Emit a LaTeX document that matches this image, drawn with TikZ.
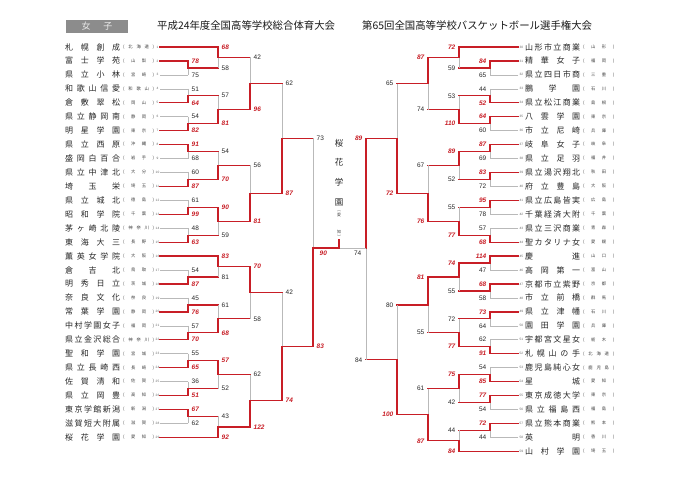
\documentclass[tikz,border=0pt]{standalone}
\usepackage{fontspec}
\setmainfont{Liberation Sans}
\newfontfamily\jp{Noto Sans CJK JP}
\usepackage{tikz}
\usetikzlibrary{calc}
\definecolor{winred}{RGB}{200,30,38}
\definecolor{losegray}{RGB}{185,185,185}
\definecolor{boxgray}{RGB}{140,140,140}
\tikzset{
  hW/.style={draw=winred, line width=1.3pt, line cap=rect},
  vW/.style={hW},
  hP/.style={hW},
  hL/.style={draw=losegray, line width=0.5pt},
  vL/.style={hL},
  vP/.style={hL},
  sW/.style={text=winred, inner sep=0.5pt, font=\fontsize{6.5}{7}\selectfont\bfseries\itshape},
  sL/.style={text=black!85, inner sep=0.5pt, font=\fontsize{6.5}{7}\selectfont},
  sP/.style={sL},
  atl/.style={anchor=west, xshift=3pt},
  atr/.style={anchor=east, xshift=-3pt},
  team/.style={inner sep=0pt, anchor=west, text=black!85, font=\jp\fontsize{8}{9}\selectfont},
  pref/.style={inner sep=0pt, anchor=west, text=black!75, font=\jp\fontsize{4.3}{5}\selectfont},
  seed/.style={inner sep=0pt, text=black!60, font=\fontsize{3.2}{4}\selectfont},
  ttl/.style={inner sep=0pt, anchor=west, text=black!90, font=\jp\fontsize{10.4}{11}\selectfont},
  sexbox/.style={fill=boxgray, text=white!92!black, minimum width=62pt, minimum height=13pt, inner sep=0pt, font=\jp\fontsize{9}{10}\selectfont},
  champ/.style={inner sep=0pt, align=center, text=black!85, font=\jp\fontsize{8.5}{19.7}\selectfont},
  champpf/.style={inner sep=0.3pt, align=center, text=black!75, font=\jp\fontsize{4}{5}\selectfont}
}
% one bout: out, upper, lower, column, kinds (W/L/P), scores, side (l/r)
\newcommand{\bout}[9]{%
  \path let \p1=(#2), \p2=(#3) in coordinate (#1) at (#4pt,{(\y1+\y2)/2});
  \draw[h#5] (#2) -- (#2 -| #1);
  \draw[h#6] (#3) -- (#3 -| #1);
  \draw[v#5] (#2 -| #1) -- (#1);
  \draw[v#6] (#3 -| #1) -- (#1);
  \node[s#5, at#9] (#1u) at (#2 -| #1) {#7};
  \node[s#6, at#9] (#1d) at (#3 -| #1) {#8};
}
\newcommand{\spread}[2]{\makebox[#1][s]{\spaceskip=0pt plus 1fil\relax\ignorespaces#2\unskip}}

\begin{document}
\begin{tikzpicture}[x=1pt, y=-1pt]
\fill[white] (0,0) rectangle (680,480);
\useasboundingbox (0,0) rectangle (680,480);

\node[sexbox] (sex) at (97,26.5) {女\hspace{13pt}子};
\node[ttl] (ttl1) at (157,26) {平成24年度全国高等学校総合体育大会};
\node[ttl] (ttl2) at (362,26) {第65回全国高等学校バスケットボール選手権大会};

% left half
\foreach \nm/\pf [count=\i] in {札 幌 創 成/北 海 道,
  富 士 学 苑/山 梨, 県 立 小 林/宮 崎, 和 歌 山 信 愛/和 歌 山,
  倉 敷 翠 松/岡 山, 県 立 静 岡 南/静 岡, 明 星 学 園/東 京,
  県 立 西 原/沖 縄, 盛 岡 白 百 合/岩 手, 県 立 中 津 北/大 分,
  埼 玉 栄/埼 玉, 県 立 城 北/徳 島, 昭 和 学 院/千 葉,
  茅 ヶ 崎 北 陵/神 奈 川, 東 海 大 三/長 野, 薫 英 女 学 院/大 阪,
  倉 吉 北/鳥 取, 明 秀 日 立/茨 城, 奈 良 文 化/奈 良,
  常 葉 学 園/静 岡, 中 村 学 園 女 子/福 岡, 県 立 金 沢 総 合/神 奈 川,
  聖 和 学 園/宮 城, 県 立 長 崎 西/長 崎, 佐 賀 清 和/佐 賀,
  県 立 岡 豊/高 知, 東 京 学 館 新 潟/新 潟, 滋 賀 短 大 附 属/滋 賀,
  桜 花 学 園/愛 知} {
  \pgfmathsetmacro\yy{47+(\i-1)*13.94}
  \node[team] (L\i) at (65,\yy) {\spread{55pt}{\nm}};
  \node[pref] (LP\i) at (123,\yy) {\makebox[31pt][s]{\spaceskip=0pt plus 1fil\relax( \pf{} )}};
  \node[seed] (LN\i) at (157.5,\yy) {\i};
  \coordinate (tL\i) at (160,\yy);
}

% right half
\foreach \nm/\pf [count=\i, evaluate=\i as \k using int(\i+29)] in {山 形 市 立 商 業/山 形,
  精 華 女 子/福 岡, 県 立 四 日 市 商/三 重, 鵬 学 園/石 川,
  県 立 松 江 商 業/島 根, 八 雲 学 園/東 京, 市 立 尼 崎/兵 庫,
  岐 阜 女 子/岐 阜, 県 立 足 羽/福 井, 県 立 湯 沢 翔 北/秋 田,
  府 立 豊 島/大 阪, 県 立 広 島 皆 実/広 島, 千 葉 経 済 大 附/千 葉,
  県 立 三 沢 商 業/青 森, 聖 カ タ リ ナ 女/愛 媛, 慶 進/山 口,
  高 岡 第 一/富 山, 京 都 市 立 紫 野/京 都, 市 立 前 橋/群 馬,
  県 立 津 幡/石 川, 園 田 学 園/兵 庫, 宇 都 宮 文 星 女/栃 木,
  札 幌 山 の 手/北 海 道, 鹿 児 島 純 心 女/鹿 児 島, 星 城/愛 知,
  東 京 成 徳 大 学/東 京, 県 立 福 島 西/福 島, 県 立 熊 本 商 業/熊 本,
  英 明/香 川, 山 村 学 園/埼 玉} {
  \pgfmathsetmacro\yy{47+(\i-1)*13.94}
  \node[team] (R\i) at (525,\yy) {\spread{55pt}{\nm}};
  \node[pref] (RP\i) at (583,\yy) {\makebox[31pt][s]{\spaceskip=0pt plus 1fil\relax( \pf{} )}};
  \node[seed, anchor=west] (RN\i) at (519.3,\yy) {\k};
  \coordinate (tR\i) at (518,\yy);
}

% left bracket
\bout{la1}{tL2}{tL3}{188}{W}{L}{78}{75}{l}
\bout{lb1}{tL1}{la1}{218}{W}{P}{68}{58}{l}
\bout{la2}{tL4}{tL5}{188}{L}{W}{51}{64}{l}
\bout{la3}{tL6}{tL7}{188}{L}{W}{54}{82}{l}
\bout{lb2}{la2}{la3}{218}{P}{W}{57}{81}{l}
\bout{lc1}{lb1}{lb2}{250}{P}{W}{42}{96}{l}
\bout{la4}{tL8}{tL9}{188}{W}{L}{91}{68}{l}
\bout{la5}{tL10}{tL11}{188}{L}{W}{60}{87}{l}
\bout{lb3}{la4}{la5}{218}{P}{W}{54}{70}{l}
\bout{la6}{tL12}{tL13}{188}{L}{W}{61}{99}{l}
\bout{la7}{tL14}{tL15}{188}{L}{W}{48}{63}{l}
\bout{lb4}{la6}{la7}{218}{W}{P}{90}{59}{l}
\bout{lc2}{lb3}{lb4}{250}{P}{W}{56}{81}{l}
\bout{ld1}{lc1}{lc2}{282}{P}{W}{62}{87}{l}
\bout{la8}{tL17}{tL18}{188}{L}{W}{54}{87}{l}
\bout{lb5}{tL16}{la8}{218}{W}{P}{83}{81}{l}
\bout{la9}{tL19}{tL20}{188}{L}{W}{45}{76}{l}
\bout{la10}{tL21}{tL22}{188}{L}{W}{57}{70}{l}
\bout{lb6}{la9}{la10}{218}{P}{W}{61}{68}{l}
\bout{lc3}{lb5}{lb6}{250}{W}{P}{70}{58}{l}
\bout{la11}{tL23}{tL24}{188}{L}{W}{55}{65}{l}
\bout{la12}{tL25}{tL26}{188}{L}{W}{36}{51}{l}
\bout{lb7}{la11}{la12}{218}{W}{P}{57}{52}{l}
\bout{la13}{tL27}{tL28}{188}{W}{L}{67}{62}{l}
\bout{lb8}{la13}{tL29}{218}{P}{W}{43}{92}{l}
\bout{lc4}{lb7}{lb8}{250}{P}{W}{62}{122}{l}
\bout{ld2}{lc3}{lc4}{282}{P}{W}{42}{74}{l}

% right bracket
\bout{ra1}{tR2}{tR3}{490}{W}{L}{84}{65}{r}
\bout{rb1}{tR1}{ra1}{459}{W}{P}{72}{59}{r}
\bout{ra2}{tR4}{tR5}{490}{L}{W}{44}{52}{r}
\bout{ra3}{tR6}{tR7}{490}{W}{L}{64}{60}{r}
\bout{rb2}{ra2}{ra3}{459}{P}{W}{53}{110}{r}
\bout{rc1}{rb1}{rb2}{428}{W}{P}{87}{74}{r}
\bout{ra4}{tR8}{tR9}{490}{W}{L}{87}{69}{r}
\bout{ra5}{tR10}{tR11}{490}{W}{L}{83}{72}{r}
\bout{rb3}{ra4}{ra5}{459}{W}{P}{89}{52}{r}
\bout{ra6}{tR12}{tR13}{490}{W}{L}{95}{78}{r}
\bout{ra7}{tR14}{tR15}{490}{L}{W}{57}{68}{r}
\bout{rb4}{ra6}{ra7}{459}{P}{W}{55}{77}{r}
\bout{rc2}{rb3}{rb4}{428}{P}{W}{67}{76}{r}
\bout{rd1}{rc1}{rc2}{397}{P}{W}{65}{72}{r}
\bout{ra8}{tR16}{tR17}{490}{W}{L}{114}{47}{r}
\bout{ra9}{tR18}{tR19}{490}{W}{L}{68}{58}{r}
\bout{rb5}{ra8}{ra9}{459}{W}{P}{74}{55}{r}
\bout{ra10}{tR20}{tR21}{490}{W}{L}{73}{64}{r}
\bout{ra11}{tR22}{tR23}{490}{L}{W}{62}{91}{r}
\bout{rb6}{ra10}{ra11}{459}{P}{W}{72}{77}{r}
\bout{rc3}{rb5}{rb6}{428}{W}{P}{81}{55}{r}
\bout{ra12}{tR24}{tR25}{490}{L}{W}{54}{85}{r}
\bout{ra13}{tR26}{tR27}{490}{W}{L}{77}{54}{r}
\bout{rb7}{ra12}{ra13}{459}{W}{P}{75}{42}{r}
\bout{ra14}{tR28}{tR29}{490}{W}{L}{72}{44}{r}
\bout{rb8}{ra14}{tR30}{459}{P}{W}{44}{84}{r}
\bout{rc4}{rb7}{rb8}{428}{P}{W}{61}{87}{r}
\bout{rd2}{rc3}{rc4}{397}{P}{W}{80}{100}{r}

% semifinals and final
\coordinate (lsf) at (313,248);
\coordinate (rsf) at (366,248);
\coordinate (fin) at (339,248);
\draw[hP] (ld1) -- (ld1 -| lsf);
\draw[vP] (ld1 -| lsf) -- (lsf);
\draw[hW] (ld2) -- (ld2 -| lsf) -- (lsf);
\node[sP, atl] (lsfu) at (ld1 -| lsf) {73};
\node[sW, atl] (lsfd) at (ld2 -| lsf) {83};
\draw[hP] (rd2) -- (rd2 -| rsf);
\draw[vP] (rd2 -| rsf) -- (rsf);
\draw[hW] (rd1) -- (rd1 -| rsf) -- (rsf);
\node[sW, atr] (rsfu) at (rd1 -| rsf) {89};
\node[sP, atr] (rsfd) at (rd2 -| rsf) {84};

\node[champ] (champ) at (339,172.5) {桜\\花\\学\\園};
\node[champpf] (champa) at (339,214) {︵\\愛};
\node[champpf] (champb) at (339,234.5) {知\\︶};
\draw[hL] (rsf) -- (fin);
\draw[hW] (lsf) -- (fin) -- (champb.south);
\node[sW, anchor=west] (finl) at (319,253.5) {90};
\node[sL, anchor=east] (finr) at (362,253.5) {74};
\end{tikzpicture}
\end{document}
